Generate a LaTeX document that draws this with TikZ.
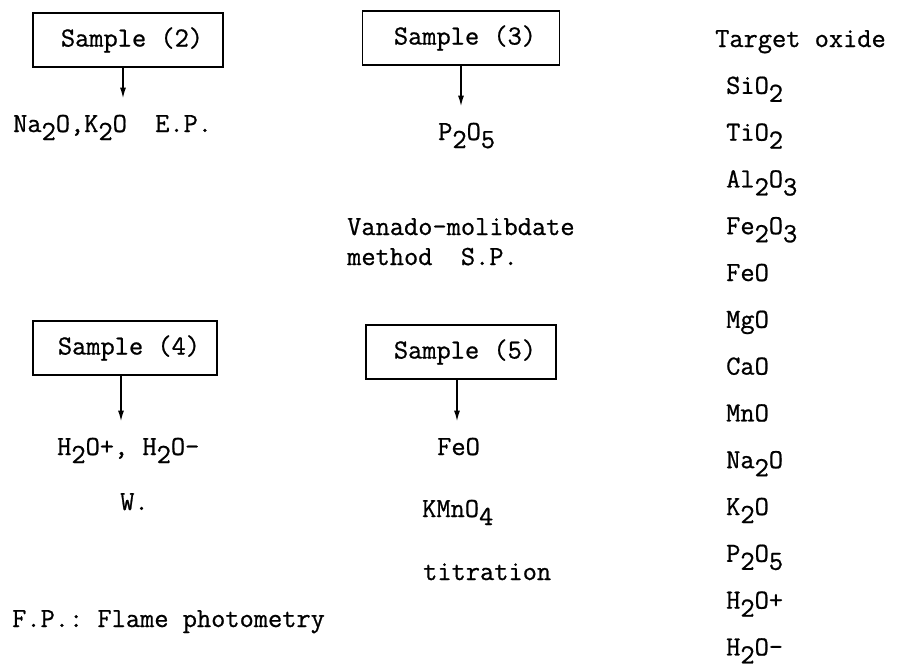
\documentclass[tikz,border=0pt]{standalone}
\usepackage{fontspec}
\setmonofont{Latin Modern Mono}[FakeBold=0.8]
\usetikzlibrary{arrows.meta,positioning}
\newcommand{\lowr}[1]{\raisebox{-8pt}{#1}}
\tikzset{
  samplebox/.style={draw, line width=1.6pt, minimum width=190pt, minimum height=54pt, inner sep=0pt},
  txt/.style={anchor=base west, inner sep=0pt},
  flow/.style={-{Latex[length=11pt,width=6pt]}, line width=1.6pt, shorten >=16pt},
}

\begin{document}
\begin{tikzpicture}[x=1pt,y=-1pt,font=\fontsize{27.6}{33}\selectfont\ttfamily]
\useasboundingbox (0,0) rectangle (906,672);

% Sample (2)
\node[samplebox] (s2) at (128,40) {\hspace{8pt}Sample (2)};
\node[txt] (alk) at (13,132) {Na\lowr{2}O,K\lowr{2}O};
\node[txt] (ep) at (155,132) {E.P.};
\draw[flow] ([xshift=-5pt]s2.south) -- ([xshift=-5pt]s2.south |- alk.north);

% Sample (3)
\node[samplebox, minimum width=197pt] (s3) at (461,38) {\hspace{8pt}Sample (3)};
\node[txt] (phos) at (438,140) {P\lowr{2}O\lowr{5}};
\draw[flow] (s3.south) -- (s3.south |- phos.north);
\node[txt] (vm1) at (347,235) {Vanado-molibdate};
\node[txt] (vm2) at (347,265) {method\ \ S.P.};

% Sample (4)
\node[samplebox, minimum width=184pt] (s4) at (125,348) {\hspace{8pt}Sample (4)};
\node[txt] (water) at (57,455) {H\lowr{2}O+, H\lowr{2}O-};
\node[txt] (wt) at (120,510) {W.};
\draw[flow] ([xshift=-4pt]s4.south) -- ([xshift=-4pt]s4.south |- water.north);

% Sample (5)
\node[samplebox] (s5) at (461,352) {\hspace{8pt}Sample (5)};
\node[txt] (feo) at (437,455) {FeO};
\node[txt] (kmn) at (422,517) {KMnO\lowr{4}};
\node[txt] (titr) at (423,580) {titration};
\draw[flow] ([xshift=-4pt]s5.south) -- ([xshift=-4pt]s5.south |- feo.north);

% legend
\node[txt] (fp) at (12,627) {F.P.: Flame photometry};

% Target oxides
\node[txt] (head) at (715,47) {Target oxide};
\foreach \ox [count=\i] in {SiO\lowr{2}, TiO\lowr{2}, Al\lowr{2}O\lowr{3}, Fe\lowr{2}O\lowr{3},
    FeO, MgO, CaO, MnO, Na\lowr{2}O, K\lowr{2}O, P\lowr{2}O\lowr{5}, H\lowr{2}O+, H\lowr{2}O-}
  \node[txt] (ox\i) at (726,{47+46.8*\i}) {\ox};
\end{tikzpicture}
\end{document}
